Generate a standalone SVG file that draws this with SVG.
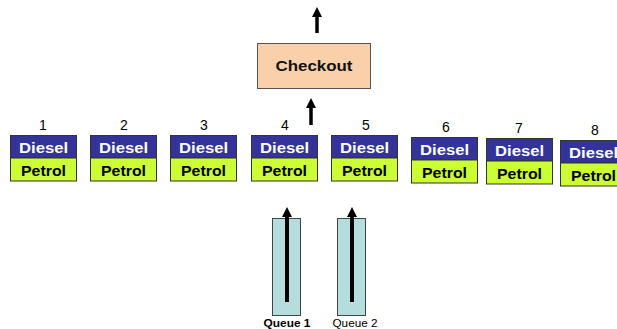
<svg xmlns="http://www.w3.org/2000/svg" width="617" height="329" viewBox="0 0 617 329">
  <style>
    .num { font-family: "Liberation Sans", Arial, sans-serif; font-size: 14px; fill: #000; text-anchor: middle; }
    .diesel { fill: #333399; stroke: #333333; stroke-width: 1; }
    .petrol { fill: #ccff33; stroke: #333333; stroke-width: 1; }
    .dl { font-family: "Liberation Sans", Arial, sans-serif; font-size: 14px; font-weight: bold; fill: #ffffff; text-anchor: middle; }
    .pl { font-family: "Liberation Sans", Arial, sans-serif; font-size: 14px; font-weight: bold; fill: #000000; text-anchor: middle; }
    .checkout { fill: #f9d0aa; stroke: #555555; stroke-width: 1; }
    .ck { font-family: "Liberation Sans", Arial, sans-serif; font-size: 14px; font-weight: bold; fill: #111; text-anchor: middle; }
    .queue { fill: #b6dddd; stroke: #444444; stroke-width: 1; }
    .ql { font-family: "Liberation Sans", Arial, sans-serif; font-size: 10px; fill: #000; text-anchor: middle; }
    .shaft { stroke: #000; fill: none; }
  </style>
  <defs>
    <marker id="head" viewBox="0 0 10 10" refX="1" refY="5" markerWidth="10" markerHeight="11" markerUnits="userSpaceOnUse" orient="auto">
      <path d="M0,0 L10,5 L0,10 Z" fill="#000"/>
    </marker>
    <g id="pumpShape">
      <rect class="diesel" x="0" y="0" width="66" height="22.5"/>
      <rect class="petrol" x="0" y="22.5" width="66" height="23"/>
      <text class="dl" x="33" y="17" textLength="49" lengthAdjust="spacingAndGlyphs">Diesel</text>
      <text class="pl" x="33" y="40" textLength="45" lengthAdjust="spacingAndGlyphs">Petrol</text>
    </g>
  </defs>

  <!-- checkout -->
  <g id="checkout">
    <rect class="checkout" x="257.5" y="43.5" width="113" height="45"/>
    <text class="ck" x="314" y="71" textLength="77" lengthAdjust="spacingAndGlyphs">Checkout</text>
  </g>

  <!-- pumps -->
  <g id="pump1"><text class="num" x="43" y="130">1</text><use href="#pumpShape" transform="translate(10.5,135.5)"/></g>
  <g id="pump2"><text class="num" x="124" y="130">2</text><use href="#pumpShape" transform="translate(90.5,135.5)"/></g>
  <g id="pump3"><text class="num" x="204" y="130">3</text><use href="#pumpShape" transform="translate(170.5,135.5)"/></g>
  <g id="pump4"><text class="num" x="285" y="130">4</text><use href="#pumpShape" transform="translate(251.5,135.5)"/></g>
  <g id="pump5"><text class="num" x="366" y="130">5</text><use href="#pumpShape" transform="translate(331.5,135.5)"/></g>
  <g id="pump6"><text class="num" x="446" y="132">6</text><use href="#pumpShape" transform="translate(411.5,137.5)"/></g>
  <g id="pump7"><text class="num" x="519" y="133">7</text><use href="#pumpShape" transform="translate(486.5,138.5)"/></g>
  <g id="pump8"><text class="num" x="595" y="135">8</text><use href="#pumpShape" transform="translate(560.5,140.5)"/></g>

  <!-- queues -->
  <g id="queue1">
    <rect class="queue" x="272.5" y="218.5" width="28" height="97"/>
    <text class="ql" x="287" y="327" font-weight="bold" textLength="47" lengthAdjust="spacingAndGlyphs">Queue 1</text>
  </g>
  <g id="queue2">
    <rect class="queue" x="337.5" y="218.5" width="28" height="97"/>
    <text class="ql" x="355" y="327" textLength="45" lengthAdjust="spacingAndGlyphs">Queue 2</text>
  </g>

  <!-- connectors -->
  <g id="connectors">
    <line class="shaft" x1="317" y1="33" x2="317" y2="16" stroke-width="3.5" marker-end="url(#head)"/>
    <line class="shaft" x1="311" y1="125" x2="311" y2="107" stroke-width="3.5" marker-end="url(#head)"/>
    <line class="shaft" x1="287" y1="302" x2="287" y2="216" stroke-width="4" marker-end="url(#head)"/>
    <line class="shaft" x1="352" y1="302" x2="352" y2="216" stroke-width="4" marker-end="url(#head)"/>
  </g>
</svg>
